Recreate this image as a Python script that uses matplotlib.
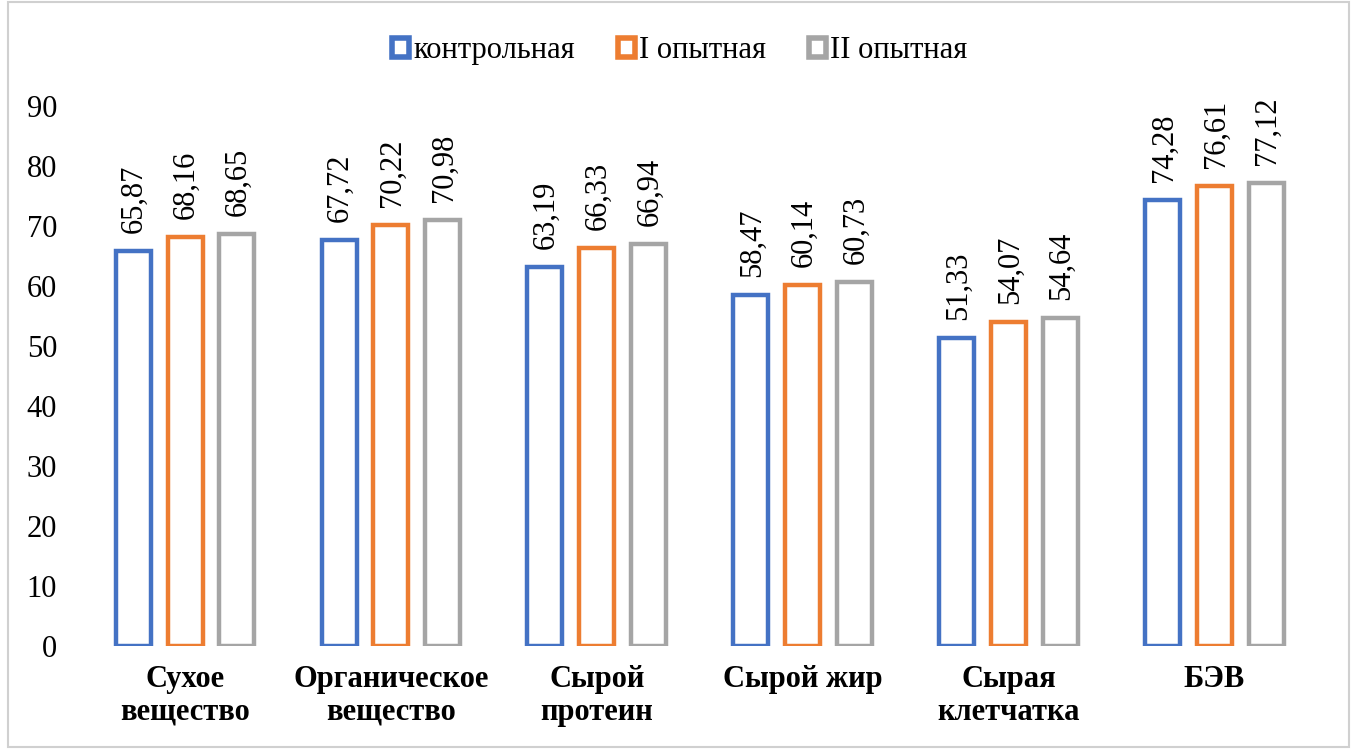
import numpy as np
import matplotlib
matplotlib.use('Agg')
import matplotlib.pyplot as plt
from matplotlib.patches import Patch, Rectangle

plt.rcParams['font.family'] = ['Liberation Serif', 'DejaVu Serif']

categories = ['Сухое\nвещество', 'Органическое\nвещество', 'Сырой\nпротеин',
              'Сырой жир', 'Сырая\nклетчатка', 'БЭВ']
series_names = ['контрольная', 'I опытная', 'II опытная']
control = [65.87, 67.72, 63.19, 58.47, 51.33, 74.28]
exp1 = [68.16, 70.22, 66.33, 60.14, 54.07, 76.61]
exp2 = [68.65, 70.98, 66.94, 60.73, 54.64, 77.12]
colors = ['#4472C4', '#ED7D31', '#A5A5A5']
yticks = list(range(0, 91, 10))

fig = plt.figure(figsize=(13.54, 7.49), dpi=100)
ax = fig.add_axes([0.0606, 0.1375, 0.9124, 0.721])

x = np.arange(len(categories))
width = 0.17
step = 0.252
for k, (vals, c) in enumerate(zip([control, exp1, exp2], colors)):
  pos = x + (k - 1) * step
  ax.bar(pos, vals, width, facecolor='white', edgecolor=c, linewidth=3.2)
  for xi, v in zip(pos, vals):
    ax.annotate(f'{v:.2f}'.replace('.', ','), (xi, v), xytext=(1, 13),
                textcoords='offset points', rotation=90, ha='center',
                va='bottom', fontsize=22)

ax.set_xlim(-0.5, len(categories) - 0.5)
ax.set_ylim(0, 90)
ax.set_yticks(yticks)
ax.tick_params(axis='y', labelsize=22, length=0, pad=18)
ax.set_xticks(x)
ax.set_xticklabels(categories, fontsize=22, fontweight='bold', linespacing=1.15)
ax.tick_params(axis='x', length=0, pad=14)
for s in ax.spines.values():
  s.set_visible(False)

handles = [Patch(facecolor='white', edgecolor=c, linewidth=4) for c in colors]
fig.legend(handles, series_names, loc='center', bbox_to_anchor=(0.502, 0.932),
           ncol=3, frameon=False, fontsize=22, handlelength=0.55,
           handleheight=0.55, handletextpad=0.15, columnspacing=1.4)

fig.patches.append(Rectangle((0.006, 0.003), 0.99, 0.994, transform=fig.transFigure,
                             fill=False, edgecolor='#D0D0D0', linewidth=1.5))

fig.savefig('out.png', dpi=100)
